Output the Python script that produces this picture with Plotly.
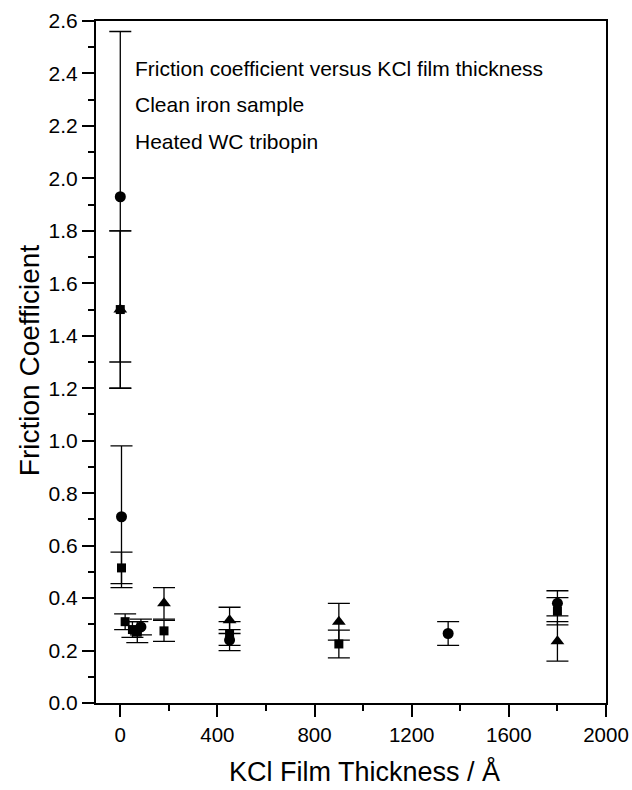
import plotly.graph_objects as go

# Data
circle_x = [0, 5, 85, 450, 1350, 1800]
circle_y = [1.93, 0.71, 0.29, 0.24, 0.265, 0.38]
circle_err = [0.63, 0.27, 0.03, 0.04, 0.045, 0.048]

square_x = [0, 5, 20, 50, 70, 180, 450, 900, 1800]
square_y = [1.50, 0.515, 0.31, 0.28, 0.27, 0.275, 0.265, 0.225, 0.35]
square_err = [0.30, 0.06, 0.03, 0.03, 0.04, 0.04, 0.045, 0.053, 0.052]

tri_x = [0, 180, 450, 900, 1800]
tri_y = [1.50, 0.38, 0.315, 0.31, 0.235]
tri_err = [0.30, 0.06, 0.05, 0.07, 0.075]

x_ticks = [0, 400, 800, 1200, 1600, 2000]
y_ticks = [round(0.2 * i, 1) for i in range(14)]

notes = ["Friction coefficient versus KCl film thickness",
         "Clean iron sample",
         "Heated WC tribopin"]
x_title = "KCl Film Thickness / Å"
y_title = "Friction Coefficient"

FONT = "Liberation Sans, Arial, sans-serif"

def err(v):
    return dict(type="data", array=v, visible=True, color="black",
                thickness=1.3, width=11)

fig = go.Figure()
fig.add_trace(go.Scatter(x=square_x, y=square_y, mode="markers",
                         marker=dict(symbol="square", size=9, color="black"),
                         error_y=err(square_err), name="square"))
fig.add_trace(go.Scatter(x=tri_x, y=tri_y, mode="markers",
                         marker=dict(symbol="triangle-up", size=12, color="black"),
                         error_y=err(tri_err), name="triangle"))
fig.add_trace(go.Scatter(x=circle_x, y=circle_y, mode="markers",
                         marker=dict(symbol="circle", size=11, color="black"),
                         error_y=err(circle_err), name="circle"))

note_y = [0.931, 0.877, 0.824]
for t, yy in zip(notes, note_y):
    fig.add_annotation(x=0.0725, y=yy, xref="paper", yref="paper",
                       text=t, showarrow=False, xanchor="left", yanchor="middle",
                       font=dict(size=21, color="black", family=FONT))

fig.add_annotation(x=0.527, y=-0.101, xref="paper", yref="paper", text=x_title,
                   showarrow=False, xanchor="center", yanchor="middle",
                   font=dict(size=27, color="black", family=FONT))
fig.add_annotation(x=-0.129, y=0.503, xref="paper", yref="paper", text=y_title,
                   showarrow=False, xanchor="center", yanchor="middle", textangle=-90,
                   font=dict(size=28, color="black", family=FONT))

fig.update_layout(
    width=632, height=790,
    margin=dict(l=96, r=26, t=21, b=87, autoexpand=False),
    paper_bgcolor="white", plot_bgcolor="white",
    showlegend=False,
    font=dict(family=FONT, color="black"),
    xaxis=dict(range=[-100, 2000], tickvals=x_ticks, ticktext=[str(v) for v in x_ticks],
               ticks="outside", ticklen=12, tickwidth=2, tickcolor="black",
               minor=dict(dtick=200, tick0=0, ticks="outside", ticklen=6,
                          tickwidth=2, tickcolor="black"),
               showline=True, linecolor="black", linewidth=2, mirror=True,
               showgrid=False, zeroline=False, automargin=False,
               tickfont=dict(size=20.5, family=FONT), ticklabelstandoff=0),
    yaxis=dict(range=[0, 2.6], tickvals=y_ticks, ticktext=[f"{v:.1f}" for v in y_ticks],
               ticks="outside", ticklen=12, tickwidth=2, tickcolor="black",
               minor=dict(dtick=0.1, tick0=0, ticks="outside", ticklen=6,
                          tickwidth=2, tickcolor="black"),
               showline=True, linecolor="black", linewidth=2, mirror=True,
               showgrid=False, zeroline=False, automargin=False,
               tickfont=dict(size=21, family=FONT), ticklabelstandoff=0),
)

fig.write_html("out.html")
